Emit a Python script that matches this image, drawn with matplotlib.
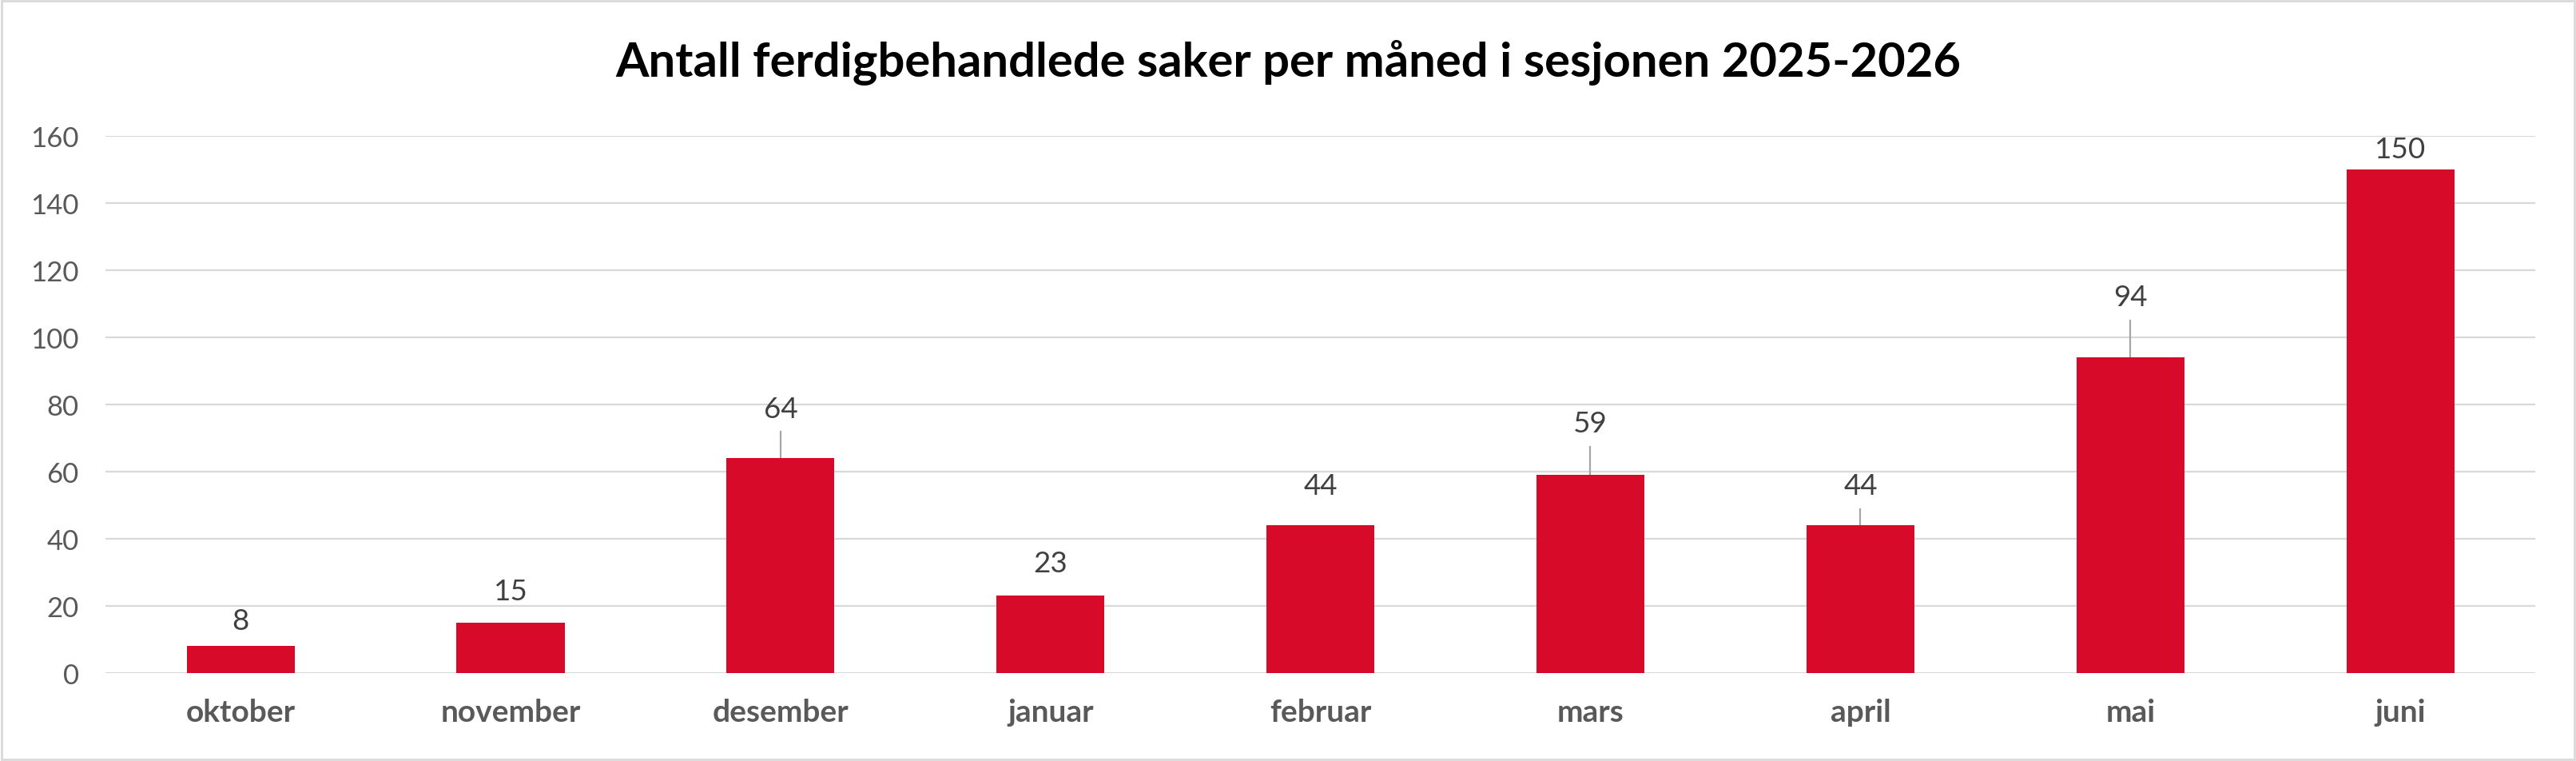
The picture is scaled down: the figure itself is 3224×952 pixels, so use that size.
import matplotlib.pyplot as plt
from matplotlib.patches import Rectangle

months = ["oktober", "november", "desember", "januar", "februar",
          "mars", "april", "mai", "juni"]
cases = [8, 15, 64, 23, 44, 59, 44, 94, 150]
# how far above the bar top each (hand-placed) data label sits, in data units
label_lift = [7.7, 9.5, 14.8, 9.8, 11.8, 15.4, 11.8, 18.0, 6.0]
has_leader = [False, False, True, False, False, True, True, True, False]
y_ticks = [0, 20, 40, 60, 80, 100, 120, 140, 160]

title = "Antall ferdigbehandlede saker per måned i sesjonen 2025-2026"


def main():
    plt.rcParams['font.family'] = ['Lato', 'DejaVu Sans']
    fig = plt.figure(figsize=(32.24, 9.53), dpi=100)
    ax = fig.add_axes([0.0410, 0.1154, 0.9432, 0.7052])

    x = list(range(len(months)))
    ax.bar(x, cases, width=0.4, color="#D80A29", zorder=3)

    for i, v in enumerate(cases):
        ly = v + label_lift[i]
        ax.text(i, ly, str(v), ha="center", va="center", fontsize=26.5,
                color="#404040", zorder=4)
        if has_leader[i]:
            ax.plot([i, i], [v, ly - 7], color="#A6A6A6", lw=1.6, zorder=2)

    ax.set_xlim(-0.5, len(months) - 0.5)
    ax.set_ylim(0, 160)
    ax.set_yticks(y_ticks)
    ax.set_xticks(x)
    ax.set_xticklabels(months, fontsize=28, fontweight="bold", color="#595959")
    ax.tick_params(axis="y", labelsize=25, labelcolor="#595959", length=0, pad=24)
    ax.tick_params(axis="x", length=0, pad=22)
    ax.grid(axis="y", color="#D9D9D9", lw=1.6, zorder=0)
    for s in ax.spines.values():
        s.set_visible(False)

    fig.text(0.5, 0.918, title, ha="center", va="center", fontsize=43,
             fontweight="bold", color="#000000")

    fig.patches.append(Rectangle((0.0006, 0.002), 0.9988, 0.996, transform=fig.transFigure,
                                 fill=False, edgecolor="#D9D9D9", lw=2))
    fig.savefig("out.png", dpi=100)


if __name__ == '__main__':
    main()
